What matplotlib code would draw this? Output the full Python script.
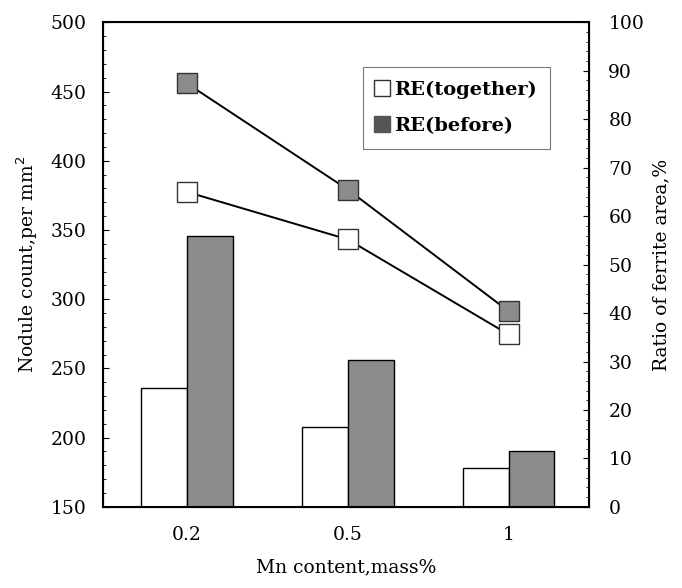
import numpy as np
import matplotlib
matplotlib.use("Agg")
from matplotlib import pyplot as plt
from matplotlib.lines import Line2D

plt.rcParams['font.family'] = ['DejaVu Serif']

mn_labels = ['0.2', '0.5', '1']
# nodule count, per mm^2 (bars, left axis)
count_together = [235.5, 208, 178]
count_before = [345.5, 256, 190.5]
# ratio of ferrite area, % (lines, right axis)
ferrite_together = [65.0, 55.2, 35.6]
ferrite_before = [87.4, 65.5, 40.4]

gray = '#8c8c8c'
x = np.arange(len(mn_labels))
w = 0.285

fig = plt.figure(figsize=(6.82, 5.88), dpi=100)
ax = fig.add_axes([0.1515, 0.138, 0.712, 0.824])
ax.bar(x - w/2, count_together, w, color='white', edgecolor='black', linewidth=1.0, zorder=2)
ax.bar(x + w/2, count_before, w, color=gray, edgecolor='black', linewidth=1.0, zorder=2)
ax.set_ylim(150, 500)
ax.set_xlim(-0.52, 2.5)
ax.set_xticks(x)
ax.set_xticklabels(mn_labels)
ax.set_yticks(np.arange(150, 501, 50))
ax.set_yticks(np.arange(150, 501, 10), minor=True)
ax.tick_params(axis='x', length=0, pad=14, labelsize=13.5)
ax.tick_params(axis='y', which='major', direction='in', length=4, labelsize=13.5, pad=12)
ax.tick_params(axis='y', which='minor', direction='in', length=2.5)
ax.set_xlabel('Mn content,mass%', fontsize=13.5, labelpad=10)
ax.set_ylabel('Nodule count,per mm$^2$', fontsize=13.5, labelpad=8)
for s in ax.spines.values():
    s.set_linewidth(1.5)

ax2 = ax.twinx()
ax2.plot(x, ferrite_together, color='black', lw=1.4, marker='s', ms=14,
         mfc='white', mec='#333333', mew=1.0, zorder=3)
ax2.plot(x, ferrite_before, color='black', lw=1.4, marker='s', ms=14,
         mfc=gray, mec='#333333', mew=1.0, zorder=3)
ax2.set_ylim(0, 100)
ax2.set_yticks(np.arange(0, 101, 10))
ax2.set_yticks(np.arange(0, 101, 2), minor=True)
ax2.tick_params(axis='y', which='major', direction='in', length=4, labelsize=13.5, pad=14)
ax2.tick_params(axis='y', which='minor', direction='in', length=2.5)
ax2.set_ylabel('Ratio of ferrite area,%', fontsize=13.5, labelpad=6)

handles = [
    Line2D([], [], ls='none', marker='s', ms=11, mfc='white', mec='#333333', mew=1.0),
    Line2D([], [], ls='none', marker='s', ms=11, mfc='#555555', mec='#555555', mew=1.0),
]
leg = ax2.legend(handles, ['RE(together)', 'RE(before)'], loc='upper right',
                 bbox_to_anchor=(0.92, 0.908), borderaxespad=0, fancybox=False, framealpha=1,
                 edgecolor='#777777', handlelength=0.6, handletextpad=0.3,
                 borderpad=0.7, labelspacing=0.95, prop={'size': 14, 'weight': 'bold'})
leg.get_frame().set_linewidth(0.8)

fig.savefig('out.png', dpi=100)
